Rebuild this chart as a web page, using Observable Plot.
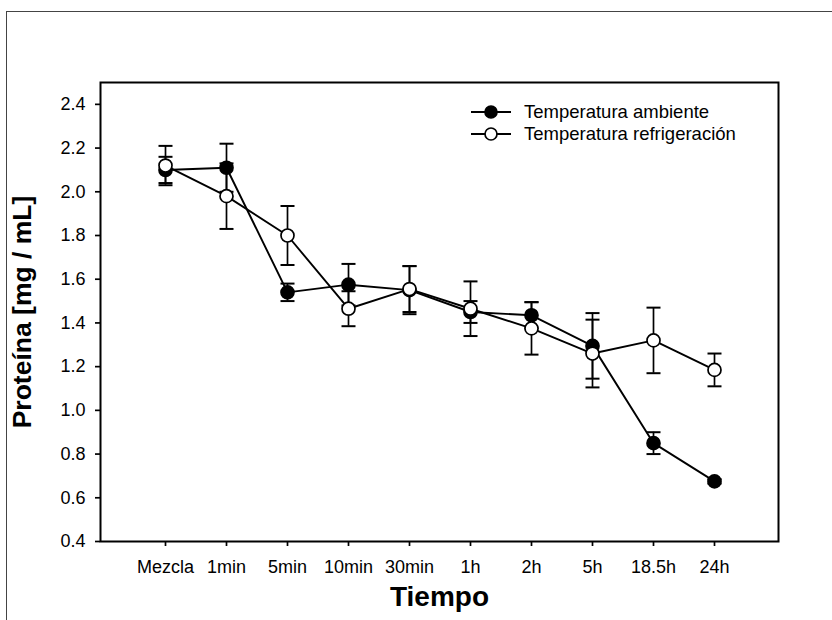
<!DOCTYPE html>
<html>
<head>
<meta charset="utf-8">
<script src="https://cdn.jsdelivr.net/npm/d3@7"></script>
<script src="https://cdn.jsdelivr.net/npm/@observablehq/plot@0.6"></script>
<style>
  html, body { margin: 0; padding: 0; background: #fff; }
  #wrap { position: relative; width: 832px; height: 620px; font-family: "Liberation Sans", Arial, sans-serif; }
  #outer { position: absolute; left: 6px; top: 11px; width: 826px; height: 609px; border-left: 1.5px solid #444; border-top: 1.5px solid #444; pointer-events: none; z-index: 2; box-sizing: border-box; }
  #legend { position: absolute; left: 470px; top: 101px; z-index: 3; font-size: 18.5px; color: #000; }
  #legend .row { display: flex; align-items: center; height: 22px; }
  #legend svg { display: block; margin-right: 12px; }
</style>
</head>
<body>
<div id="wrap"><div id="outer"></div></div>
<script>
const categories = ["Mezcla", "1min", "5min", "10min", "30min", "1h", "2h", "5h", "18.5h", "24h"];
const ambienteMean = [2.10, 2.11, 1.54, 1.575, 1.55, 1.45, 1.435, 1.295, 0.85, 0.675];
const ambienteErr  = [0.06, 0.11, 0.04, 0.095, 0.11, 0.05, 0.06, 0.15, 0.05, 0.01];
const refrigMean   = [2.12, 1.98, 1.80, 1.465, 1.555, 1.465, 1.375, 1.26, 1.32, 1.185];
const refrigErr    = [0.09, 0.15, 0.135, 0.08, 0.105, 0.125, 0.12, 0.155, 0.15, 0.075];
const yTicks = [0.4, 0.6, 0.8, 1.0, 1.2, 1.4, 1.6, 1.8, 2.0, 2.2, 2.4];
const seriesNames = ["Temperatura ambiente", "Temperatura refrigeración"];

const rows = [];
categories.forEach((t, i) => rows.push({t, v: ambienteMean[i], e: ambienteErr[i], s: seriesNames[0]}));
categories.forEach((t, i) => rows.push({t, v: refrigMean[i], e: refrigErr[i], s: seriesNames[1]}));
const amb = rows.filter(d => d.s === seriesNames[0]);
const ref = rows.filter(d => d.s === seriesNames[1]);

const capSymbol = { draw(ctx) { ctx.moveTo(-7, 0); ctx.lineTo(7, 0); } };

function errMarks(data) {
  return [
    Plot.ruleX(data, {x: "t", y1: d => d.v - d.e, y2: d => d.v + d.e, stroke: "#000", strokeWidth: 1.7}),
    Plot.dot(data, {x: "t", y: d => d.v + d.e, symbol: capSymbol, fill: "none", stroke: "#000", strokeWidth: 2}),
    Plot.dot(data, {x: "t", y: d => d.v - d.e, symbol: capSymbol, fill: "none", stroke: "#000", strokeWidth: 2})
  ];
}

const chart = Plot.plot({
  width: 832,
  height: 620,
  marginLeft: 100,
  marginRight: 54,
  marginTop: 82,
  marginBottom: 79,
  style: {fontSize: "18px", fontFamily: "'Liberation Sans', Arial, sans-serif", color: "#000", background: "transparent"},
  x: {type: "point", domain: categories, padding: 1, label: null},
  y: {domain: [0.4, 2.5], label: null},
  marks: [
    Plot.axisY({ticks: yTicks, tickFormat: d => d.toFixed(1), tickSize: 5, tickPadding: 10, strokeWidth: 1.7, fontSize: 18}),
    Plot.axisX({tickSize: 5, tickPadding: 14, strokeWidth: 1.7, fontSize: 18}),
    ...errMarks(amb),
    ...errMarks(ref),
    Plot.line(amb, {x: "t", y: "v", stroke: "#000", strokeWidth: 1.9}),
    Plot.line(ref, {x: "t", y: "v", stroke: "#000", strokeWidth: 1.9}),
    Plot.dot(amb, {x: "t", y: "v", r: 6.5, fill: "#000", stroke: "#000", strokeWidth: 1.7}),
    Plot.dot(ref, {x: "t", y: "v", r: 6.5, fill: "#fff", stroke: "#000", strokeWidth: 1.7}),
    Plot.frame({stroke: "#000", strokeWidth: 2}),
    Plot.text(["Tiempo"], {frameAnchor: "bottom", dy: 64, fontSize: 28, fontWeight: "bold", textAnchor: "middle", fill: "#000"}),
    Plot.text(["Proteína [mg / mL]"], {frameAnchor: "left", dx: -78, rotate: -90, fontSize: 26.5, fontWeight: "bold", textAnchor: "middle", fill: "#000"})
  ]
});

const wrap = document.getElementById("wrap");
chart.style.position = "absolute";
chart.style.left = "0";
chart.style.top = "0";
wrap.appendChild(chart);

// Legend
const legend = document.createElement("div");
legend.id = "legend";
seriesNames.forEach((name, i) => {
  const row = document.createElement("div");
  row.className = "row";
  const svg = d3.create("svg").attr("width", 42).attr("height", 16);
  svg.append("line").attr("x1", 1).attr("x2", 41).attr("y1", 8).attr("y2", 8).attr("stroke", "#000").attr("stroke-width", 1.9);
  svg.append("circle").attr("cx", 21).attr("cy", 8).attr("r", 6).attr("fill", i === 0 ? "#000" : "#fff").attr("stroke", "#000").attr("stroke-width", 1.7);
  row.appendChild(svg.node());
  const span = document.createElement("span");
  span.textContent = name;
  row.appendChild(span);
  legend.appendChild(row);
});
wrap.appendChild(legend);
</script>
</body>
</html>
